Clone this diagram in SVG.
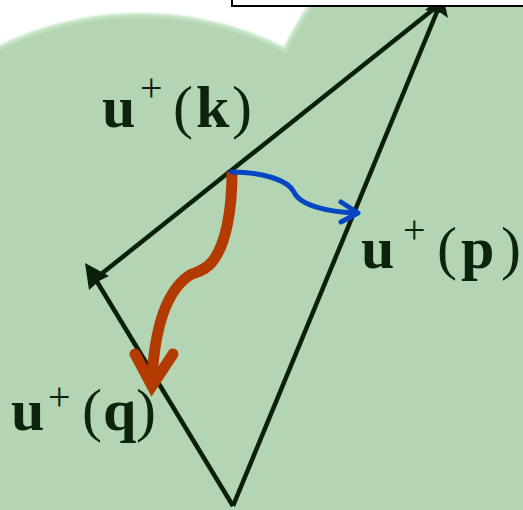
<svg xmlns="http://www.w3.org/2000/svg" width="523" height="510" viewBox="0 0 523 510">
  <defs>
    <style>
      .vec { fill: none; stroke: #0b1f0b; stroke-width: 4.5; stroke-linecap: butt; }
      .head { fill: #0b1f0b; stroke: none; }
      .lbl { font-family: "Liberation Serif", "DejaVu Serif", serif; fill: #0d230d; }
      .b { font-weight: bold; font-size: 60px; }
      .r { font-weight: normal; font-size: 60px; }
      .sup { font-weight: normal; font-size: 40px; }
    </style>
    <filter id="soft" x="-10%" y="-10%" width="120%" height="120%">
      <feGaussianBlur stdDeviation="0.9"/>
    </filter>
  </defs>

  <rect x="0" y="0" width="523" height="510" fill="#ffffff"/>

  <!-- green background blob -->
  <g id="background" filter="url(#soft)">
    <circle cx="140" cy="335" r="322" fill="#c3e3c3"/>
    <circle cx="600" cy="200" r="351" fill="#c3e3c3"/>
    <circle cx="140" cy="335" r="318" fill="#b4d5b4"/>
    <circle cx="600" cy="200" r="347" fill="#b4d5b4"/>
    <rect x="-20" y="70" width="570" height="460" fill="#b4d5b4"/>
  </g>

  <!-- connectors -->
  <g id="connectors">
    <!-- u+(k): apex to left vertex -->
    <path class="vec" d="M440,4 L100,275"/>
    <!-- u+(p): bottom vertex to apex -->
    <path class="vec" d="M233,506 L441,2"/>
    <polygon class="head" points="443,-4 448,18 441,13 425,10"/>
    <!-- u+(q): bottom vertex to left vertex -->
    <path class="vec" d="M233,506 L96,280"/>
    <polygon class="head" points="85,263 109,276 99,281 89,290"/>
    <!-- red curved arrow -->
    <path d="M232,172 C232,210 226,245 212,262 C205,271 196,272 190,275 C170,288 155,320 152,380" fill="none" stroke="#b33a00" stroke-width="11" stroke-linecap="butt"/>
    <path d="M135,354 L152,386 L173,354" fill="none" stroke="#b33a00" stroke-width="11" stroke-linecap="round" stroke-linejoin="miter"/>
    <!-- blue curved arrow -->
    <path d="M232,172 C262,172 288,180 294,192 C300,206 330,212 355,213" fill="none" stroke="#0746c2" stroke-width="5" stroke-linecap="round"/>
    <path d="M341,202 L358,213 L341,222" fill="none" stroke="#0746c2" stroke-width="5" stroke-linecap="round" stroke-linejoin="round"/>
  </g>

  <!-- white box at top -->
  <g id="box">
    <rect x="232" y="-10" width="300" height="16" fill="#ffffff" stroke="#000000" stroke-width="2"/>
  </g>

  <!-- labels -->
  <g id="label-k">
    <text class="lbl"><tspan class="b" x="102" y="127">u</tspan><tspan class="sup" x="140" y="101">+</tspan><tspan class="r" x="173" y="127">(</tspan><tspan class="b" x="196" y="127">k</tspan><tspan class="r" x="232" y="127">)</tspan></text>
  </g>
  <g id="label-p">
    <text class="lbl"><tspan class="b" x="361" y="268">u</tspan><tspan class="sup" x="403" y="243">+</tspan><tspan class="r" x="437" y="268">(</tspan><tspan class="b" x="461" y="268">p</tspan><tspan class="r" x="501" y="268">)</tspan></text>
  </g>
  <g id="label-q">
    <text class="lbl"><tspan class="b" x="11" y="430">u</tspan><tspan class="sup" x="48" y="410">+</tspan><tspan class="r" x="82" y="430">(</tspan><tspan class="b" x="103" y="430">q</tspan><tspan class="r" x="136" y="430">)</tspan></text>
  </g>
</svg>
